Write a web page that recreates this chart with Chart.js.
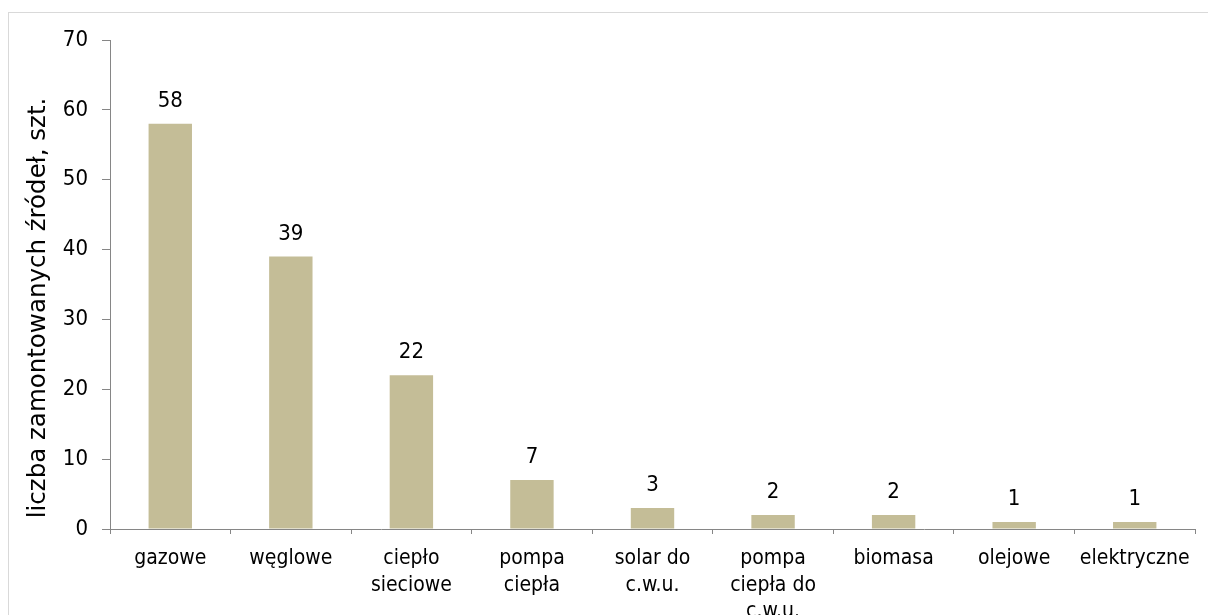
<!DOCTYPE html>
<html>
<head>
<meta charset="utf-8">
<script src="https://cdn.jsdelivr.net/npm/chart.js@4/dist/chart.umd.min.js"></script>
<style>
html,body{margin:0;padding:0;background:#fff;overflow:hidden;width:1208px;height:615px;}
#frame{position:absolute;left:8px;top:12px;width:1240px;height:700px;border:1px solid #d9d9d9;box-sizing:border-box;}
#c{position:absolute;left:0;top:0;}
</style>
</head>
<body>
<div id="frame"></div>
<canvas id="c" width="1208" height="615"></canvas>
<script>
const categories = ['gazowe', 'węglowe', ['ciepło', 'sieciowe'], ['pompa', 'ciepła'], ['solar do', 'c.w.u.'], ['pompa', 'ciepła do', 'c.w.u.'], 'biomasa', 'olejowe', 'elektryczne'];
const values = [58, 39, 22, 7, 3, 2, 2, 1, 1];
const yTicks = [0, 10, 20, 30, 40, 50, 60, 70];
const axisTitle = 'liczba zamontowanych źródeł, szt.';

const FONT = "'DejaVu Sans Condensed', 'DejaVu Sans', sans-serif";
const TITLE_FONT = "'DejaVu Sans', sans-serif";
const AXIS = '#868686';

const valueLabels = {
  id: 'valueLabels',
  afterDatasetsDraw(chart) {
    const ctx = chart.ctx;
    const meta = chart.getDatasetMeta(0);
    ctx.save();
    ctx.font = '22px ' + FONT;
    ctx.fillStyle = '#000';
    ctx.textAlign = 'center';
    ctx.textBaseline = 'alphabetic';
    meta.data.forEach((bar, i) => {
      ctx.fillText(String(values[i]), bar.x, bar.y - 17);
    });
    ctx.restore();
  }
};

const yTitle = {
  id: 'yTitle',
  afterDraw(chart) {
    const ctx = chart.ctx;
    ctx.save();
    ctx.font = '24.5px ' + TITLE_FONT;
    ctx.fillStyle = '#000';
    ctx.textAlign = 'center';
    ctx.textBaseline = 'alphabetic';
    ctx.translate(45, 308);
    ctx.rotate(-Math.PI / 2);
    ctx.fillText(axisTitle, 0, 0);
    ctx.restore();
  }
};

new Chart(document.getElementById('c'), {
  type: 'bar',
  data: {
    labels: categories,
    datasets: [{
      data: values,
      backgroundColor: '#c4bd97',
      borderWidth: 0,
      barPercentage: 0.36,
      categoryPercentage: 1
    }]
  },
  options: {
    responsive: false,
    animation: false,
    devicePixelRatio: 1,
    layout: { padding: { top: 40, right: 13, left: 0, bottom: 0 } },
    plugins: { legend: { display: false }, tooltip: { enabled: false } },
    scales: {
      x: {
        grid: { display: true, drawOnChartArea: false, drawTicks: true, tickLength: 5, color: AXIS, offset: true },
        border: { display: true, color: AXIS, width: 1 },
        ticks: { font: { family: FONT, size: 21, lineHeight: 1.24 }, color: '#000', padding: 12, maxRotation: 0, autoSkip: false },
        afterFit(scale) { scale.height = 86; }
      },
      y: {
        min: 0, max: 70,
        afterBuildTicks(scale) { scale.ticks = yTicks.map(v => ({ value: v })); },
        grid: { display: true, drawOnChartArea: false, drawTicks: true, tickLength: 8, color: AXIS },
        border: { display: true, color: AXIS, width: 1 },
        ticks: { font: { family: FONT, size: 22 }, color: '#000', padding: 14 },
        title: { display: false },
        afterFit(scale) { scale.width = 110; }
      }
    }
  },
  plugins: [valueLabels, yTitle]
});
</script>
</body>
</html>
